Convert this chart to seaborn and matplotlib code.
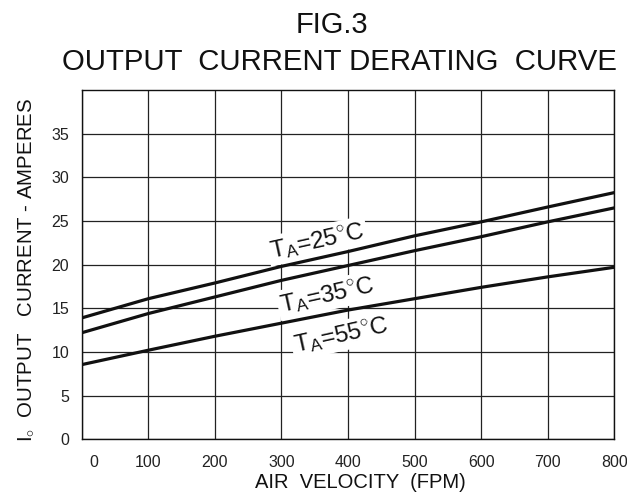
import pandas as pd
import matplotlib
matplotlib.use("Agg")
import matplotlib.pyplot as plt
import matplotlib.transforms as mtransforms
import seaborn as sns

# Datos (FPM vs amperes)
air_velocity = [0, 100, 200, 300, 400, 500, 600, 700, 800]
i_ta25 = [13.9, 16.1, 17.9, 19.8, 21.5, 23.3, 24.9, 26.6, 28.25]
i_ta35 = [12.2, 14.4, 16.3, 18.2, 19.9, 21.6, 23.2, 24.9, 26.5]
i_ta55 = [8.55, 10.2, 11.8, 13.3, 14.8, 16.1, 17.4, 18.6, 19.7]
temps = ["25", "35", "55"]
x_ticks = [0, 100, 200, 300, 400, 500, 600, 700, 800]
y_ticks = [0, 5, 10, 15, 20, 25, 30, 35]

df = pd.DataFrame({
    "fpm": air_velocity * 3,
    "amps": i_ta25 + i_ta35 + i_ta55,
    "ta": [temps[0]] * 9 + [temps[1]] * 9 + [temps[2]] * 9,
})

sns.set_style("white")
plt.rcParams["font.family"] = ["Liberation Sans", "DejaVu Sans"]
plt.rcParams["mathtext.fontset"] = "custom"
plt.rcParams["mathtext.rm"] = "Liberation Sans"
plt.rcParams["mathtext.it"] = "Liberation Sans"

W, H = 627, 499
fig = plt.figure(figsize=(W / 100, H / 100), dpi=100)
ax = fig.add_axes([81.7 / W, 1 - 439.3 / H, (614.3 - 81.7) / W, (439.3 - 90) / H])

sns.lineplot(data=df, x="fpm", y="amps", hue="ta", palette=["#111111"] * 3,
             linewidth=2.3, legend=False, ax=ax, zorder=4)

ax.set_xlim(0, 800)
ax.set_ylim(0, 40)
ax.set_xticks(x_ticks)
ax.set_yticks(y_ticks)
ax.set_xticklabels([str(v) for v in x_ticks])
ax.set_yticklabels([str(v) for v in y_ticks])
ax.grid(True, color="#222222", linewidth=0.9)
ax.set_axisbelow(True)
ax.tick_params(axis="both", length=0, labelsize=11.5, colors="#222222")
ax.tick_params(axis="x", pad=11)
ax.tick_params(axis="y", pad=9)
for sp in ax.spines.values():
    sp.set_color("#111111")
    sp.set_linewidth(1.0)
ax.set_xlabel("")
ax.set_ylabel("")

# el "0" del eje x esta corrido a la derecha
lbl0 = ax.get_xticklabels()[0]
lbl0.set_transform(lbl0.get_transform() + mtransforms.ScaledTranslation(0.12, 0, fig.dpi_scale_trans))

# etiquetas de temperatura sobre las curvas
label_pos = {"25": (354, 22.7), "35": (369, 16.5), "55": (390, 11.85)}
for t in temps:
    lx, ly = label_pos[t]
    ax.text(lx, ly, r"$\mathrm{T_A}$=" + t + r"$^{\circ}$C", fontsize=17.5,
            rotation=12.5, rotation_mode="anchor", ha="center", va="center",
            color="#111111", zorder=3,
            bbox=dict(facecolor="white", edgecolor="none", pad=2))

# titulos y ejes
fig.text(332 / W, 1 - 33.3 / H, "FIG.3", fontsize=21, ha="center", va="baseline", color="#111111")
fig.text(340 / W, 1 - 70 / H, "OUTPUT  CURRENT DERATING  CURVE", fontsize=21.2,
         ha="center", va="baseline", color="#111111")
fig.text(360 / W, 1 - 483 / H, "AIR  VELOCITY  (FPM)", fontsize=14.5,
         ha="center", va="center", color="#111111")
fig.text(26 / W, 1 - 270 / H, r"I$_{\circ}$  OUTPUT   CURRENT - AMPERES", fontsize=14.7,
         rotation=90, ha="center", va="center", color="#111111")

fig.savefig("out.png", dpi=100)
